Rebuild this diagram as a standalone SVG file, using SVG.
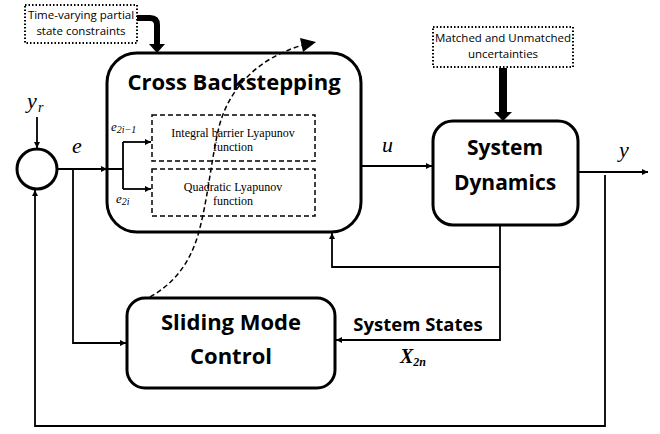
<svg xmlns="http://www.w3.org/2000/svg" width="660" height="434" viewBox="0 0 660 434">
<style>
.blk{fill:#fff;stroke:#000;stroke-width:3}
.dot{fill:#fff;stroke:#000;stroke-width:2;stroke-dasharray:1.5 2}
.dash{fill:none;stroke:#000;stroke-width:1.5;stroke-dasharray:5 3}
.ln{fill:none;stroke:#000;stroke-width:1.8}
.t{font-family:"Open Sans","Liberation Sans",sans-serif;font-weight:bold;fill:#000;text-anchor:middle}
.s{font-family:"Open Sans","Liberation Sans",sans-serif;font-size:11.5px;fill:#000;text-anchor:middle}
.r{font-family:"Liberation Serif",serif;font-size:12px;fill:#000;text-anchor:middle}
.m{font-family:"Liberation Serif","DejaVu Serif",serif;font-style:italic;fill:#000}
</style>
<defs>
<marker id="ah" viewBox="0 0 10 10" refX="10" refY="5" markerWidth="6" markerHeight="6" orient="auto" markerUnits="userSpaceOnUse">
<path d="M0,0L10,5L0,10z" fill="#000"/>
</marker>
</defs>

<g id="time-varying">
<rect class="dot" x="25" y="5" width="112" height="38"/>
<text class="s" x="81" y="19">Time-varying partial</text>
<text class="s" x="81" y="35">state constraints</text>
</g>

<g id="matched">
<rect class="dot" x="433" y="27" width="140" height="40"/>
<text class="s" x="503" y="42">Matched and Unmatched</text>
<text class="s" x="503" y="58">uncertainties</text>
</g>

<g id="sum">
<circle cx="37" cy="169" r="20" fill="#fff" stroke="#000" stroke-width="3"/>
</g>

<g id="cross-backstepping">
<rect class="blk" x="107" y="53" width="254" height="179" rx="30"/>
<text class="t" x="234" y="90" font-size="22">Cross Backstepping</text>
<g id="iblf">
<rect class="dash" x="152" y="115" width="163" height="46" fill="none"/>
<text class="r" x="233" y="137">Integral barrier Lyapunov</text>
<text class="r" x="233" y="151">function</text>
</g>
<g id="qlf">
<rect class="dash" x="152" y="169" width="163" height="47" fill="none"/>
<text class="r" x="233" y="191">Quadratic Lyapunov</text>
<text class="r" x="233" y="205">function</text>
</g>
</g>

<g id="system-dynamics">
<rect class="blk" x="433" y="121" width="145" height="104" rx="20"/>
<text class="t" x="505" y="155" font-size="21">System</text>
<text class="t" x="505" y="190" font-size="21">Dynamics</text>
</g>

<g id="sliding-mode">
<rect class="blk" x="127" y="298" width="208" height="90" rx="18"/>
<text class="t" x="231" y="330" font-size="22">Sliding Mode</text>
<text class="t" x="231" y="364" font-size="22">Control</text>
</g>

<g id="connectors">
<path d="M137,18 H150 Q157,18 157,25 V45" fill="none" stroke="#000" stroke-width="6"/>
<path d="M149,44 H165 L157,53 z" fill="#000"/>
<path d="M503,68 V113" fill="none" stroke="#000" stroke-width="8"/>
<path d="M494,112 H512 L503,121 z" fill="#000"/>
<path class="ln" d="M37,117 V148" marker-end="url(#ah)"/>
<path class="ln" d="M57,169 H107" marker-end="url(#ah)"/>
<path class="ln" d="M107,169 H123 M123,142 V189"/>
<path class="ln" d="M123,142 H151" marker-end="url(#ah)"/>
<path class="ln" d="M123,189 H151" marker-end="url(#ah)"/>
<path class="ln" d="M73,169 V343 H126" marker-end="url(#ah)"/>
<path class="ln" d="M361,166 H432" marker-end="url(#ah)"/>
<path class="ln" d="M578,172 H648" marker-end="url(#ah)"/>
<path class="ln" d="M605,175 V426 H35 V190" marker-end="url(#ah)"/>
<path class="ln" d="M500,225 V340 H336" marker-end="url(#ah)"/>
<path class="ln" d="M500,267 H332 V233" marker-end="url(#ah)"/>
<path class="dash" d="M150,297 C175,283 190,262 198,235 C208,200 211,160 219,127 C229,88 258,58 303,45" stroke-width="1.8"/>
<path d="M300,38 L316,42 L303,52 z" fill="#000"/>
</g>

<g id="labels">
<text class="m" x="27" y="108" font-size="22">y</text>
<text class="m" x="38" y="112" font-size="14">r</text>
<text class="m" x="72" y="153" font-size="22">e</text>
<text class="m" x="111" y="131" font-size="13">e<tspan font-size="10" dy="2">2i−1</tspan></text>
<text class="m" x="116" y="203" font-size="13">e<tspan font-size="10" dy="2">2i</tspan></text>
<text class="m" x="382" y="152" font-size="22">u</text>
<text class="m" x="619" y="157" font-size="22">y</text>
<text class="t" x="418" y="331" font-size="18.5">System States</text>
<text class="m" x="400" y="363" font-size="20" font-weight="bold">X<tspan font-size="12" dy="3">2n</tspan></text>
</g>
</svg>
